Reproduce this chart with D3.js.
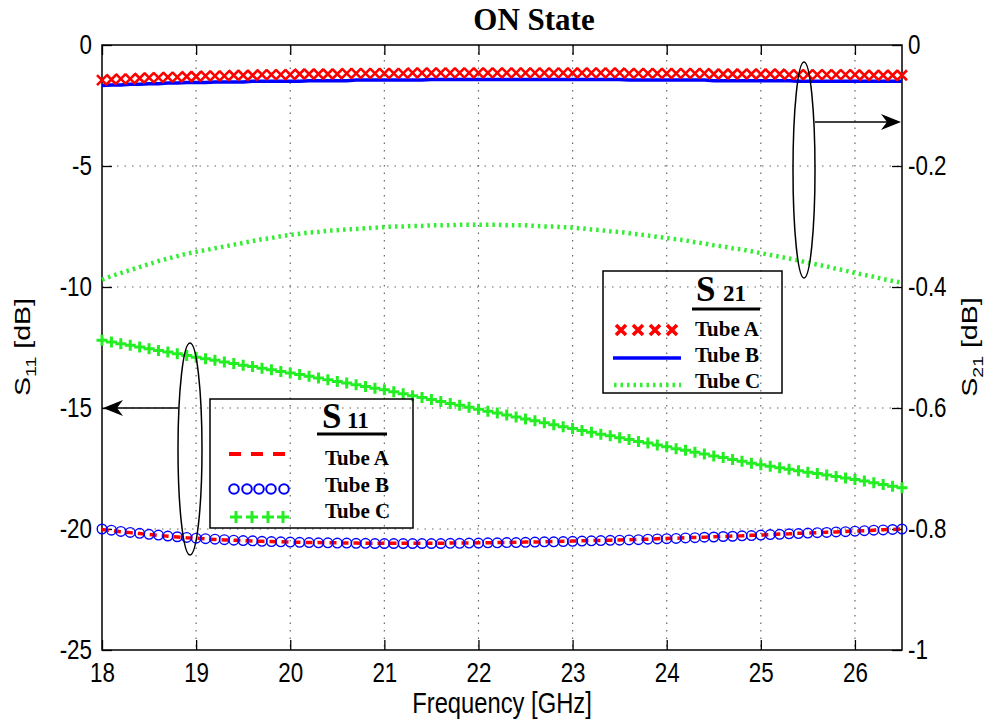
<!DOCTYPE html>
<html>
<head>
<meta charset="utf-8">
<script src="https://cdn.jsdelivr.net/npm/d3@7"></script>
<style>
  body { margin: 0; background: #fff; }
  svg { display: block; }
  .tick text { font-family: "Liberation Sans", Arial, sans-serif; font-size: 28px; fill: #000; }
  .serif { font-family: "Liberation Serif", "Times New Roman", serif; font-weight: bold; fill: #000; }
</style>
</head>
<body>
<div id="chart"></div>
<script>
// frequency points (GHz)
var freq = [
  18.0,18.1,18.2,18.3,18.4,18.5,18.6,18.7,18.8,18.9,
  19.0,19.1,19.2,19.3,19.4,19.5,19.6,19.7,19.8,19.9,
  20.0,20.1,20.2,20.3,20.4,20.5,20.6,20.7,20.8,20.9,
  21.0,21.1,21.2,21.3,21.4,21.5,21.6,21.7,21.8,21.9,
  22.0,22.1,22.2,22.3,22.4,22.5,22.6,22.7,22.8,22.9,
  23.0,23.1,23.2,23.3,23.4,23.5,23.6,23.7,23.8,23.9,
  24.0,24.1,24.2,24.3,24.4,24.5,24.6,24.7,24.8,24.9,
  25.0,25.1,25.2,25.3,25.4,25.5,25.6,25.7,25.8,25.9,
  26.0,26.1,26.2,26.3,26.4,26.5
];

// S11 [dB], left axis
var s11TubeA = [
  -20.02,-20.07,-20.11,-20.15,-20.19,-20.23,-20.26,-20.30,-20.33,-20.36,
  -20.38,-20.41,-20.43,-20.45,-20.47,-20.48,-20.50,-20.51,-20.52,-20.53,
  -20.54,-20.55,-20.56,-20.56,-20.57,-20.57,-20.58,-20.58,-20.59,-20.59,
  -20.59,-20.59,-20.59,-20.59,-20.59,-20.59,-20.59,-20.58,-20.58,-20.58,
  -20.57,-20.57,-20.56,-20.56,-20.55,-20.54,-20.54,-20.53,-20.52,-20.51,
  -20.50,-20.49,-20.48,-20.47,-20.46,-20.45,-20.44,-20.43,-20.42,-20.40,
  -20.39,-20.38,-20.36,-20.35,-20.34,-20.32,-20.31,-20.29,-20.28,-20.26,
  -20.25,-20.23,-20.21,-20.20,-20.18,-20.17,-20.15,-20.13,-20.12,-20.10,
  -20.08,-20.07,-20.05,-20.03,-20.02,-20.00
];
var s11TubeB = [
  -20.00,-20.05,-20.10,-20.14,-20.18,-20.22,-20.25,-20.29,-20.32,-20.35,
  -20.38,-20.40,-20.42,-20.44,-20.46,-20.48,-20.49,-20.51,-20.52,-20.53,
  -20.54,-20.55,-20.56,-20.57,-20.57,-20.58,-20.58,-20.59,-20.59,-20.60,
  -20.60,-20.60,-20.60,-20.60,-20.60,-20.60,-20.60,-20.59,-20.59,-20.58,
  -20.58,-20.57,-20.57,-20.56,-20.56,-20.55,-20.54,-20.53,-20.53,-20.52,
  -20.51,-20.50,-20.49,-20.48,-20.47,-20.46,-20.45,-20.44,-20.42,-20.41,
  -20.40,-20.39,-20.37,-20.36,-20.34,-20.33,-20.31,-20.30,-20.28,-20.27,
  -20.25,-20.23,-20.22,-20.20,-20.19,-20.17,-20.15,-20.14,-20.12,-20.11,
  -20.09,-20.07,-20.05,-20.04,-20.02,-20.00
];
var s11TubeC = [
  -12.20,-12.27,-12.34,-12.41,-12.48,-12.55,-12.62,-12.69,-12.76,-12.83,
  -12.90,-12.97,-13.03,-13.10,-13.16,-13.23,-13.29,-13.36,-13.42,-13.49,
  -13.55,-13.62,-13.69,-13.76,-13.83,-13.90,-13.97,-14.04,-14.11,-14.18,
  -14.25,-14.33,-14.41,-14.49,-14.57,-14.65,-14.73,-14.81,-14.89,-14.97,
  -15.05,-15.13,-15.21,-15.29,-15.37,-15.45,-15.53,-15.61,-15.69,-15.77,
  -15.85,-15.93,-16.00,-16.08,-16.15,-16.23,-16.30,-16.38,-16.45,-16.53,
  -16.60,-16.68,-16.75,-16.83,-16.90,-16.98,-17.05,-17.13,-17.20,-17.28,
  -17.35,-17.41,-17.47,-17.53,-17.59,-17.65,-17.71,-17.77,-17.83,-17.89,
  -17.95,-18.02,-18.09,-18.16,-18.23,-18.30
];

// S21 [dB], right axis
var s21TubeA = [
  -0.058,-0.057,-0.056,-0.056,-0.055,-0.054,-0.054,-0.053,-0.053,-0.052,
  -0.052,-0.051,-0.051,-0.051,-0.050,-0.050,-0.050,-0.049,-0.049,-0.049,
  -0.049,-0.048,-0.048,-0.048,-0.048,-0.048,-0.047,-0.047,-0.047,-0.047,
  -0.047,-0.047,-0.047,-0.046,-0.046,-0.046,-0.046,-0.046,-0.046,-0.046,
  -0.046,-0.046,-0.046,-0.046,-0.046,-0.046,-0.046,-0.046,-0.046,-0.046,
  -0.046,-0.046,-0.046,-0.046,-0.046,-0.046,-0.047,-0.047,-0.047,-0.047,
  -0.047,-0.047,-0.047,-0.047,-0.047,-0.048,-0.048,-0.048,-0.048,-0.048,
  -0.048,-0.048,-0.048,-0.049,-0.049,-0.049,-0.049,-0.049,-0.049,-0.049,
  -0.049,-0.050,-0.050,-0.050,-0.050,-0.050
];
var s21TubeB = [
  -0.067,-0.066,-0.066,-0.065,-0.065,-0.064,-0.064,-0.063,-0.063,-0.062,
  -0.062,-0.062,-0.061,-0.061,-0.061,-0.061,-0.060,-0.060,-0.060,-0.060,
  -0.060,-0.060,-0.059,-0.059,-0.059,-0.059,-0.059,-0.058,-0.058,-0.058,
  -0.058,-0.058,-0.058,-0.058,-0.058,-0.057,-0.057,-0.057,-0.057,-0.057,
  -0.057,-0.057,-0.057,-0.057,-0.057,-0.057,-0.057,-0.057,-0.057,-0.057,
  -0.057,-0.057,-0.057,-0.057,-0.057,-0.057,-0.058,-0.058,-0.058,-0.058,
  -0.058,-0.058,-0.058,-0.058,-0.058,-0.059,-0.059,-0.059,-0.059,-0.059,
  -0.059,-0.059,-0.059,-0.059,-0.060,-0.060,-0.060,-0.060,-0.060,-0.060,
  -0.060,-0.060,-0.060,-0.060,-0.060,-0.060
];
var s21TubeC = [
  -0.388,-0.382,-0.377,-0.372,-0.367,-0.362,-0.357,-0.353,-0.349,-0.345,
  -0.342,-0.339,-0.336,-0.333,-0.330,-0.327,-0.324,-0.321,-0.319,-0.316,
  -0.314,-0.312,-0.310,-0.309,-0.307,-0.306,-0.305,-0.304,-0.303,-0.302,
  -0.301,-0.300,-0.300,-0.299,-0.299,-0.298,-0.298,-0.298,-0.297,-0.297,
  -0.297,-0.297,-0.297,-0.298,-0.298,-0.298,-0.299,-0.300,-0.300,-0.301,
  -0.302,-0.303,-0.305,-0.306,-0.308,-0.309,-0.311,-0.313,-0.315,-0.317,
  -0.319,-0.321,-0.323,-0.326,-0.328,-0.331,-0.333,-0.336,-0.338,-0.341,
  -0.344,-0.347,-0.350,-0.353,-0.356,-0.360,-0.363,-0.366,-0.370,-0.373,
  -0.377,-0.380,-0.383,-0.387,-0.390,-0.393
];

var xTicks = [18, 19, 20, 21, 22, 23, 24, 25, 26];
var leftTicks = [0, -5, -10, -15, -20, -25];
var rightTicks = [0, -0.2, -0.4, -0.6, -0.8, -1];

[s11TubeA, s11TubeB, s11TubeC, s21TubeA, s21TubeB, s21TubeC].forEach(function(s, i) {
  if (s.length !== freq.length) throw new Error("series " + i + " has " + s.length + " points, freq has " + freq.length);
});

var W = 988, H = 719;
var margin = {top: 45, right: 86, bottom: 69, left: 102};
var width = W - margin.left - margin.right;
var height = H - margin.top - margin.bottom;
var squeeze = 0.8; // narrow look of the tick labels

var svg = d3.select("#chart").append("svg").attr("width", W).attr("height", H);
var g = svg.append("g").attr("transform", "translate(" + margin.left + "," + margin.top + ")");

var x = d3.scaleLinear().domain([18, 26.5]).range([0, width]);
var yL = d3.scaleLinear().domain([-25, 0]).range([height, 0]);
var yR = d3.scaleLinear().domain([-1, 0]).range([height, 0]);

var fmt = function(d) { return String(d); };

// dotted grid
g.append("g").selectAll("line").data(xTicks.slice(1)).join("line")
  .attr("x1", function(d) { return x(d); }).attr("x2", function(d) { return x(d); })
  .attr("y1", 0).attr("y2", height)
  .attr("stroke", "#666").attr("stroke-width", 1.2).attr("stroke-dasharray", "1.5,6");
g.append("g").selectAll("line").data(leftTicks.slice(1, -1)).join("line")
  .attr("y1", function(d) { return yL(d); }).attr("y2", function(d) { return yL(d); })
  .attr("x1", 0).attr("x2", width)
  .attr("stroke", "#666").attr("stroke-width", 1.2).attr("stroke-dasharray", "1.5,6");

// axes, ticks pointing inward
var axB = g.append("g").attr("transform", "translate(0," + height + ")")
  .call(d3.axisBottom(x).tickValues(xTicks).tickSize(-10).tickPadding(12).tickFormat(fmt));
var axT = g.append("g")
  .call(d3.axisTop(x).tickValues(xTicks).tickSize(-10).tickFormat(""));
var axL = g.append("g")
  .call(d3.axisLeft(yL).tickValues(leftTicks).tickSize(-10).tickPadding(10).tickFormat(fmt));
var axR = g.append("g").attr("transform", "translate(" + width + ",0)")
  .call(d3.axisRight(yR).tickValues(rightTicks).tickSize(-10).tickPadding(6).tickFormat(fmt));
[axB, axT, axL, axR].forEach(function(a) {
  a.select(".domain").remove();
  a.selectAll(".tick line").attr("stroke", "#000").attr("stroke-width", 1.3);
  a.selectAll(".tick text")
    .attr("x", function() { return (+this.getAttribute("x") || 0) / squeeze; })
    .attr("transform", "scale(" + squeeze + ",1)");
});
axB.selectAll(".tick text").attr("dy", "0.72em");

g.append("rect").attr("width", width).attr("height", height)
  .attr("fill", "none").attr("stroke", "#000").attr("stroke-width", 1.5);

// marker helpers
function drawX(sel, px, py, r, sw) {
  sel.append("path").attr("d", "M" + (px - r) + "," + (py - r) + "L" + (px + r) + "," + (py + r) +
    "M" + (px - r) + "," + (py + r) + "L" + (px + r) + "," + (py - r))
    .attr("stroke", "#ff0000").attr("stroke-width", sw).attr("fill", "none");
}
function drawPlus(sel, px, py, r) {
  sel.append("path").attr("d", "M" + (px - r) + "," + py + "L" + (px + r) + "," + py +
    "M" + px + "," + (py - r) + "L" + px + "," + (py + r))
    .attr("stroke", "#22ee22").attr("stroke-width", 3).attr("fill", "none");
}
function drawO(sel, px, py, r, sw) {
  sel.append("circle").attr("cx", px).attr("cy", py).attr("r", r)
    .attr("fill", "none").attr("stroke", "#0000ff").attr("stroke-width", sw);
}

var lineL = function(vals) {
  return d3.line().x(function(d, i) { return x(freq[i]); }).y(function(d) { return yL(d); })(vals);
};
var lineR = function(vals) {
  return d3.line().x(function(d, i) { return x(freq[i]); }).y(function(d) { return yR(d); })(vals);
};

// S11 curves
g.append("path").attr("d", lineL(s11TubeA)).attr("fill", "none")
  .attr("stroke", "#ff0000").attr("stroke-width", 3.5).attr("stroke-dasharray", "7,5");
var gB = g.append("g");
s11TubeB.forEach(function(v, i) { drawO(gB, x(freq[i]), yL(v), 4.8, 1.4); });
var gC = g.append("g");
s11TubeC.forEach(function(v, i) { drawPlus(gC, x(freq[i]), yL(v), 5.5); });

// S21 curves
g.append("path").attr("d", lineR(s21TubeC)).attr("fill", "none")
  .attr("stroke", "#33ee33").attr("stroke-width", 4.5).attr("stroke-dasharray", "2.5,4");
g.append("path").attr("d", lineR(s21TubeB)).attr("fill", "none")
  .attr("stroke", "#0000ff").attr("stroke-width", 3.5);
var gA = g.append("g");
s21TubeA.forEach(function(v, i) { drawX(gA, x(freq[i]), yR(v), 5, 2.6); });

// title and axis labels
svg.append("text").attr("class", "serif").attr("x", 534).attr("y", 30)
  .attr("text-anchor", "middle").attr("font-size", 31).text("ON State");
svg.append("text")
  .attr("transform", "translate(" + (margin.left + width / 2) + ",713) scale(0.82,1)")
  .attr("text-anchor", "middle")
  .attr("font-family", "'Liberation Sans', Arial, sans-serif")
  .attr("font-size", 29).text("Frequency [GHz]");

function yLabel(cx, cy, sub) {
  var t = svg.append("text")
    .attr("transform", "translate(" + cx + "," + cy + ") rotate(-90) scale(1.3,1)")
    .attr("text-anchor", "middle")
    .attr("font-family", "'Liberation Sans', Arial, sans-serif").attr("font-size", 22);
  t.append("tspan").text("S");
  t.append("tspan").attr("font-size", 15).attr("dy", 6).text(sub);
  t.append("tspan").attr("dy", -6).text(" [dB]");
}
yLabel(30, 347, "11");
yLabel(977, 347, "21");

// S21 legend
var lg2 = svg.append("g");
lg2.append("rect").attr("x", 603).attr("y", 271).attr("width", 179).attr("height", 122)
  .attr("fill", "none").attr("stroke", "#000").attr("stroke-width", 1.5);
lg2.append("text").attr("class", "serif").attr("x", 696).attr("y", 301).attr("font-size", 35).text("S");
lg2.append("text").attr("class", "serif").attr("x", 723).attr("y", 301).attr("font-size", 23).text("21");
lg2.append("line").attr("x1", 692).attr("x2", 760).attr("y1", 309).attr("y2", 309)
  .attr("stroke", "#000").attr("stroke-width", 3);
[621, 638, 655, 672].forEach(function(px) { drawX(lg2, px, 330, 5, 3.6); });
lg2.append("line").attr("x1", 613).attr("x2", 681).attr("y1", 358).attr("y2", 358)
  .attr("stroke", "#0000ff").attr("stroke-width", 3.5);
lg2.append("line").attr("x1", 614).attr("x2", 681).attr("y1", 385).attr("y2", 385)
  .attr("stroke", "#33ee33").attr("stroke-width", 4.5).attr("stroke-dasharray", "2.5,4");
["Tube A", "Tube B", "Tube C"].forEach(function(s, i) {
  lg2.append("text").attr("class", "serif").attr("x", 695).attr("y", 336 + i * 26)
    .attr("font-size", 21).text(s);
});

// S11 legend
var lg1 = svg.append("g");
lg1.append("rect").attr("x", 210).attr("y", 399).attr("width", 203).attr("height", 129)
  .attr("fill", "none").attr("stroke", "#000").attr("stroke-width", 1.5);
lg1.append("text").attr("class", "serif").attr("x", 322).attr("y", 428).attr("font-size", 35).text("S");
lg1.append("text").attr("class", "serif").attr("x", 347).attr("y", 428).attr("font-size", 23).text("11");
lg1.append("line").attr("x1", 317).attr("x2", 387).attr("y1", 434).attr("y2", 434)
  .attr("stroke", "#000").attr("stroke-width", 3);
lg1.append("line").attr("x1", 229).attr("x2", 289).attr("y1", 454).attr("y2", 454)
  .attr("stroke", "#ff0000").attr("stroke-width", 4).attr("stroke-dasharray", "12,10");
[234, 247, 259, 271, 284].forEach(function(px) { drawO(lg1, px, 489, 4.8, 2); });
[236, 252, 268, 283].forEach(function(px) { drawPlus(lg1, px, 517, 6); });
["Tube A", "Tube B", "Tube C"].forEach(function(s, i) {
  lg1.append("text").attr("class", "serif").attr("x", 325).attr("y", 465 + i * 26.5)
    .attr("font-size", 21).text(s);
});

// ellipse + arrow annotations
var ann = svg.append("g").attr("fill", "none").attr("stroke", "#000").attr("stroke-width", 1.5);
ann.append("ellipse").attr("cx", 190).attr("cy", 449).attr("rx", 12).attr("ry", 106);
ann.append("line").attr("x1", 178).attr("x2", 112).attr("y1", 408).attr("y2", 408);
ann.append("ellipse").attr("cx", 804).attr("cy", 170).attr("rx", 11).attr("ry", 108);
ann.append("line").attr("x1", 815).attr("x2", 892).attr("y1", 122).attr("y2", 122);
svg.append("path").attr("d", "M103,408 L123,400 L117,408 L123,416 Z").attr("fill", "#000");
svg.append("path").attr("d", "M901,122 L881,114 L887,122 L881,130 Z").attr("fill", "#000");
</script>
</body>
</html>
